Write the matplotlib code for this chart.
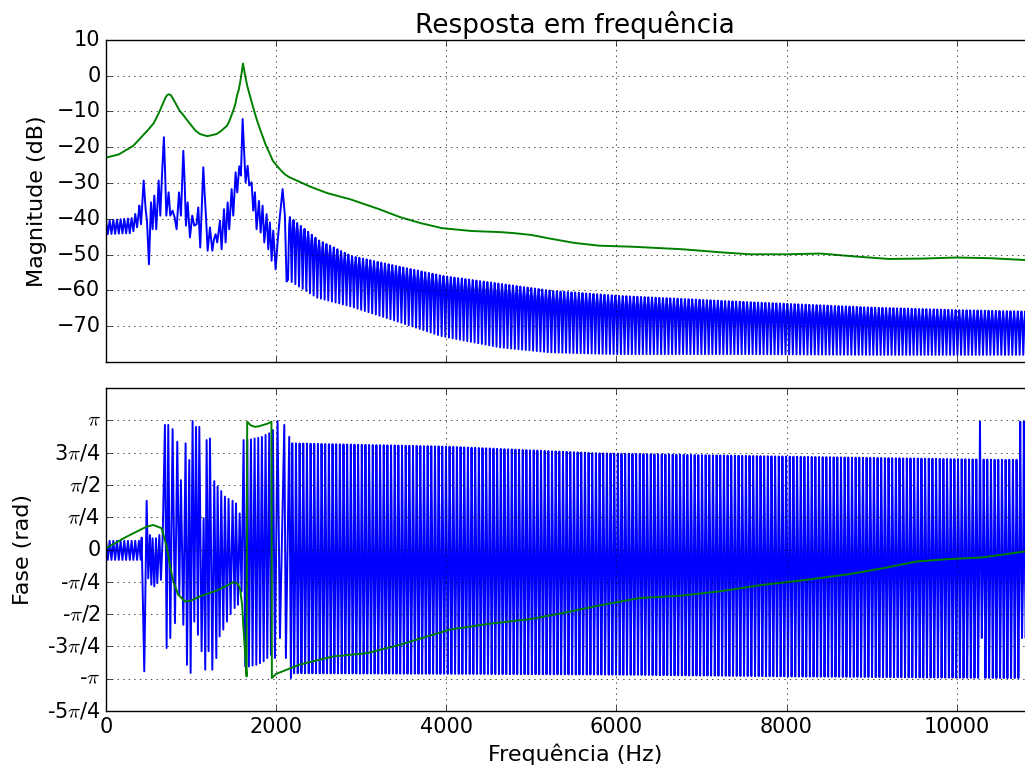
import numpy as np
import matplotlib
matplotlib.use('Agg')
import matplotlib.pyplot as plt

plt.style.use('classic')

# --- LPC envelope (green), magnitude in dB
lpc_hz = [0, 150, 320, 450, 500, 560, 620, 660, 700, 720, 740, 760, 780, 820, 860, 905,
          950, 1000, 1050, 1105, 1190, 1300, 1350, 1422, 1450, 1500, 1520, 1540, 1560,
          1580, 1595, 1610, 1625, 1640, 1660, 1692, 1720, 1750, 1780, 1810, 1850, 1880,
          1920, 1962, 2000, 2050, 2100, 2150, 2280, 2400, 2600, 2867, 3200, 3455, 3700,
          3950, 4300, 4630, 4800, 5000, 5217, 5500, 5800, 6200, 6780, 7200, 7567, 8000,
          8400, 8800, 9200, 9600, 10000, 10400, 10800, 11025]
lpc_db = [-22.9, -22.0, -19.6, -16.3, -15.0, -13.3, -10.5, -8.3, -6.1, -5.4, -5.2, -5.4,
          -6.1, -7.8, -9.6, -10.9, -12.3, -13.8, -15.3, -16.3, -16.9, -16.3, -15.5, -14.0,
          -12.7, -9.5, -8.0, -5.6, -4.0, -1.5, 0.8, 3.4, 1.5, -0.5, -2.8, -5.6, -8.0,
          -10.5, -12.8, -14.9, -17.5, -19.5, -21.5, -23.8, -24.9, -26.3, -27.5, -28.3,
          -29.7, -31.0, -32.8, -34.5, -37.2, -39.5, -41.2, -42.6, -43.4, -43.7, -44.0,
          -44.5, -45.5, -46.7, -47.5, -47.8, -48.5, -49.3, -49.9, -49.9, -49.7, -50.5,
          -51.2, -51.1, -50.8, -51.0, -51.5, -51.7]

# LPC phase, in units of pi/4
lpc_ph_hz = [0, 243, 478, 556, 654, 713, 760, 791, 850, 928, 1000, 1105, 1300, 1450, 1496,
             1545, 1575, 1600, 1614, 1640, 1653, 1660, 1700, 1750, 1800, 1850, 1900, 1945,
             1950, 2000, 2280, 2670, 3063, 3455, 4040, 4500, 5000, 5400, 5805, 6275, 6745,
             7200, 7700, 8200, 8743, 9130, 9530, 9880, 10310, 10800, 11025]
lpc_ph_q = [0.04, 0.40, 0.71, 0.76, 0.66, 0.10, -0.60, -0.99, -1.40, -1.61, -1.58, -1.45,
            -1.27, -1.08, -1.01, -1.05, -1.20, -1.70, -2.33, -3.40, -3.93, 3.96, 3.85, 3.80,
            3.82, 3.86, 3.90, 3.96, -3.98, -3.85, -3.56, -3.31, -3.21, -2.95, -2.48, -2.30,
            -2.15, -1.95, -1.73, -1.50, -1.43, -1.30, -1.10, -0.95, -0.76, -0.58, -0.37,
            -0.30, -0.24, -0.06, 0.00]

# --- signal spectrum (blue)
ripple_hz = 43.0  # spacing of the window sidelobes

# below the first harmonic: shallow ripple
low_env_hz = [0, 300, 380]
low_env_top = [-40.5, -39.8, -37.7]
low_env_bot = [-44.3, -44.0, -42.0]

# harmonics region, read point by point
harm_hz = [392, 412, 443, 466, 482, 505, 529, 548, 568, 591, 619, 638, 660, 681, 695, 709,
           736, 756, 783, 807, 830, 858, 881, 909, 925, 940, 960, 987, 1014, 1038, 1065,
           1085, 1108, 1144, 1160, 1175, 1195, 1222, 1250, 1269, 1289, 1308, 1340, 1359,
           1387, 1406, 1430, 1449, 1477, 1496, 1524, 1543, 1567, 1586, 1606, 1626, 1641,
           1665, 1684, 1712, 1731, 1751, 1770, 1798, 1818, 1841, 1861, 1888, 1908, 1927,
           1947, 1966, 1994, 2017, 2045, 2076, 2103, 2123]
harm_db = [-36.3, -41.5, -29.3, -37.3, -40.5, -52.7, -35.4, -42.9, -33.5, -42.9, -29.3,
           -39.1, -27.0, -17.2, -27.0, -39.1, -32.6, -39.1, -37.7, -39.6, -42.9, -32.6,
           -39.1, -21.0, -30.0, -41.9, -35.4, -45.2, -39.1, -41.9, -41.5, -36.8, -48.0,
           -25.6, -33.0, -39.1, -48.9, -42.4, -48.9, -45.7, -44.3, -46.6, -40.5, -48.5,
           -37.3, -46.6, -35.4, -42.9, -31.7, -39.1, -27.0, -32.6, -25.3, -27.9, -12.1,
           -22.4, -29.8, -25.2, -30.7, -29.8, -37.7, -32.6, -42.9, -35.0, -43.8, -36.3,
           -46.6, -38.7, -48.5, -41.0, -51.7, -43.3, -54.1, -46.6, -39.1, -31.7, -39.1,
           -57.5]

# sidelobe envelope above the last harmonic
env_hz = [2140, 2480, 2867, 3455, 3950, 4630, 5217, 6000, 7567, 9000, 10000, 11025]
env_top = [-39.5, -46.0, -50.4, -53.5, -56.0, -58.2, -60.1, -61.5, -63.3, -64.8, -65.5, -66.0]
env_bot = [-57.0, -62.0, -64.4, -68.9, -72.8, -75.9, -77.3, -77.8, -77.8, -78.0, -78.0, -78.0]

# blue phase, units of pi/4
ph_low_top, ph_low_bot = 0.27, -0.32
ph_harm_hz = [419, 450, 478, 497, 517, 533, 548, 568, 588, 603, 627, 646, 666, 693, 713,
              732, 756, 783, 811, 838, 862, 881, 909, 936, 952, 979, 995, 1018, 1038, 1058,
              1081, 1097, 1124, 1148, 1167, 1183, 1206, 1222, 1250, 1273, 1297, 1312, 1336,
              1355, 1379, 1398, 1422, 1441, 1465, 1488, 1512, 1528, 1551, 1571, 1594, 1618,
              1637, 1661, 1680, 1704, 1723, 1747, 1767, 1790, 1810, 1833, 1853, 1876, 1896,
              1919, 1939, 1962, 1986, 2017, 2045, 2096, 2115, 2154, 2174]
ph_harm_q = [0.37, -3.77, 1.51, -0.89, 0.45, -1.09, 0.35, -1.14, 0.35, -1.04, 0.45, -0.94,
             0.35, 3.86, -3.05, 3.86, -2.74, 3.73, -2.28, 3.34, -1.40, 2.15, -2.33, 3.29,
             -3.57, 2.77, -3.82, 3.98, -2.23, 3.80, -2.64, 3.80, -3.15, 0.97, -3.72, 3.39,
             -3.15, 3.44, -3.72, 2.12, -3.36, 1.95, -2.69, 1.81, -2.48, 1.64, -2.23, 1.57,
             -2.00, 1.51, -1.81, 1.43, -1.71, 1.12, -1.30, 3.39, -3.62, 3.41, -3.62, 3.41,
             -3.59, 3.44, -3.57, 3.46, -3.52, 3.49, -3.46, 3.55, -3.36, 3.60, -3.26, 3.70,
             -3.36, 3.98, -2.74, 3.86, -3.36, 3.49, -3.98]
ph_env_hz = [2190, 4000, 5800, 8000, 10500, 11025]
ph_env_top = [3.29, 3.19, 2.98, 2.88, 2.78, 2.78]
ph_env_bot = [-3.83, -3.85, -3.87, -3.93, -3.98, -3.98]
ph_spike_hz = [10270, 10760, 10800]
ph_spike_top, ph_spike_bot = 3.96, -2.74

# build the blue curves
k = np.arange(0, 392, ripple_hz / 2)
low_f = k
low_m = np.where(np.arange(len(k)) % 2 == 0,
                 np.interp(k, low_env_hz, low_env_top),
                 np.interp(k, low_env_hz, low_env_bot))

fk = np.arange(2140, 11100, ripple_hz)
top = np.interp(fk, env_hz, env_top)
bot = np.interp(fk, env_hz, env_bot)
hi_f = np.column_stack([fk, fk + 0.3 * ripple_hz, fk + 0.5 * ripple_hz, fk + 0.7 * ripple_hz]).ravel()
hi_m = np.column_stack([bot, top - 2.5, top, top - 2.5]).ravel()

spec_hz = np.concatenate([low_f, harm_hz, hi_f])
spec_db = np.concatenate([low_m, harm_db, hi_m])

kp = np.arange(0, 419, ripple_hz / 2)
ph_low = np.where(np.arange(len(kp)) % 2 == 0, ph_low_top, ph_low_bot)

fp = np.arange(2190, 11100, ripple_hz)
ptop = np.interp(fp, ph_env_hz, ph_env_top)
pbot = np.interp(fp, ph_env_hz, ph_env_bot)
for s in ph_spike_hz:
    near = np.abs(fp - s) < ripple_hz / 2
    ptop[near] = ph_spike_top
    pbot[near] = ph_spike_bot
ph_hi_f = np.column_stack([fp, fp + 0.25 * ripple_hz, fp + 0.5 * ripple_hz, fp + 0.75 * ripple_hz]).ravel()
ph_hi_q = np.column_stack([ptop, np.zeros_like(fp), pbot, -np.ones_like(fp)]).ravel()

phase_hz = np.concatenate([kp, ph_harm_hz, ph_hi_f])
phase_rad = np.concatenate([ph_low, ph_harm_q, ph_hi_q]) * np.pi / 4

# --- figure
fig = plt.figure(figsize=(10.25, 7.67), dpi=100, facecolor='white')
ax1 = fig.add_axes([0.1034, 0.528, 0.915, 0.42])
ax2 = fig.add_axes([0.1034, 0.073, 0.915, 0.421])

ax1.plot(spec_hz, spec_db, color='b', lw=1.4)
ax1.plot(lpc_hz, lpc_db, color='g', lw=1.4)
ax1.set_xlim(0, 11025)
ax1.set_ylim(-80, 10)
ax1.set_yticks(np.arange(10, -71, -10))
ax1.set_xticks(np.arange(0, 11000, 2000))
ax1.set_xticklabels([])
ax1.set_ylabel('Magnitude (dB)', fontsize=16, labelpad=7)
ax1.set_title('Resposta em frequência', fontsize=19)
ax1.grid(True)

ax2.plot(phase_hz, phase_rad, color='b', lw=1.4)
ax2.plot(lpc_ph_hz, np.array(lpc_ph_q) * np.pi / 4, color='g', lw=1.4)
ax2.set_xlim(0, 11025)
ax2.set_ylim(-5 * np.pi / 4, 5 * np.pi / 4)
ax2.set_yticks(np.arange(-5, 5) * np.pi / 4)
ax2.set_yticklabels(['-5$\\pi$/4', '-$\\pi$', '-3$\\pi$/4', '-$\\pi$/2', '-$\\pi$/4', '0',
                     '$\\pi$/4', '$\\pi$/2', '3$\\pi$/4', '$\\pi$'])
ax2.set_xticks(np.arange(0, 11000, 2000))
ax2.set_xlabel('Frequência (Hz)', fontsize=16)
ax2.set_ylabel('Fase (rad)', fontsize=16, labelpad=10)
ax2.grid(True)

for ax in (ax1, ax2):
    ax.tick_params(labelsize=15)

fig.savefig('out.png', dpi=100, facecolor='white')
